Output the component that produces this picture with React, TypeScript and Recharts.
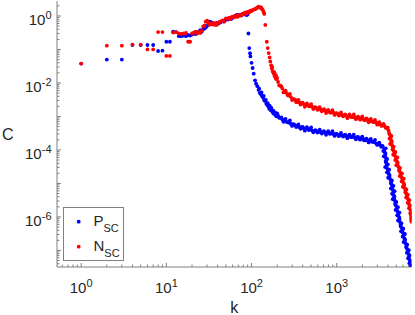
import { Scatter, ScatterChart, XAxis, YAxis } from 'recharts';

const FONT = '"Liberation Sans", Arial, Helvetica, sans-serif';
const AXIS = '#808080';
const TEXT = '#262626';
const BLUE = '#0000ff';
const RED = '#ff0000';

const X_DOMAIN = [0.52, 7550];
const Y_DOMAIN = [3.2e-8, 2.8];
const X_LABELS = [1, 10, 100, 1000];
const Y_LABELS = [1e-6, 1e-4, 1e-2, 1];
const LEGEND = [
  { name: 'P', sub: 'SC', color: BLUE },
  { name: 'N', sub: 'SC', color: RED },
];

// P_SC: degree k -> C
const P_LOW: [number, number][] = [
  [1, 0.038], [2, 0.05], [3, 0.05], [4, 0.135], [5, 0.135], [6, 0.136], [7, 0.136],
  [8, 0.09], [9, 0.092], [10, 0.17], [11, 0.17],
];
const P_RISE: [number, number][] = [
  [12, 0.34], [13, 0.33], [14, 0.25], [15, 0.25], [16, 0.26], [17, 0.25], [18, 0.27],
  [19, 0.26], [20, 0.28], [21, 0.3], [22, 0.29], [23, 0.32], [24, 0.34], [25, 0.38],
  [26, 0.34], [27, 0.4], [28, 0.42], [29, 0.45], [30, 0.5], [31, 0.55], [32, 0.68],
  [33, 0.66], [34, 0.62], [35, 0.6], [37, 0.58], [39, 0.62], [41, 0.6], [43, 0.64],
  [45, 0.7], [47, 0.68], [49, 0.74], [51, 0.8], [53, 0.78], [55, 0.85], [58, 0.82],
  [61, 0.92], [64, 1.0], [67, 1.07], [70, 1.0], [73, 1.1], [76, 1.05], [79, 1.15],
  [82, 1.2], [85, 1.1], [88, 1.07], [90, 1.12],
];
const P_DROP: [number, number][] = [
  [92, 0.3], [94, 0.11], [96, 0.077], [97, 0.062], [100, 0.04], [103, 0.028], [106, 0.019],
  [110, 0.012], [113, 0.0095], [117, 0.008], [121, 0.0062], [123, 0.0068], [125, 0.005],
  [129, 0.0046], [131, 0.0052], [133, 0.004], [137, 0.0036], [139, 0.0041], [141, 0.003],
  [145, 0.0029], [147, 0.0031], [149, 0.0024], [153, 0.0022], [155, 0.0025], [157, 0.002],
  [161, 0.0017], [163, 0.0021], [165, 0.0019], [169, 0.0015], [171, 0.0018], [174, 0.0015],
  [178, 0.0013], [180, 0.0015], [183, 0.0012], [188, 0.0012], [190, 0.0013], [193, 0.00105],
  [197, 0.001],
];
const P_PLATEAU: [number, number][] = [
  [200, 1.23e-3], [211, 9.1e-4], [224, 9.3e-4], [237, 6.9e-4], [251, 8.5e-4], [266, 6.7e-4],
  [282, 7.6e-4], [299, 5.2e-4], [316, 5.75e-4], [335, 4.85e-4], [355, 5.75e-4], [376, 4.27e-4],
  [398, 4.9e-4], [422, 3.76e-4], [447, 4.8e-4], [473, 3.94e-4], [501, 4.68e-4], [531, 3.35e-4],
  [562, 3.9e-4], [596, 3.31e-4], [631, 4.07e-4], [668, 3.09e-4], [708, 3.63e-4], [750, 2.82e-4],
  [794, 3.63e-4], [841, 3.02e-4], [891, 3.63e-4], [944, 2.63e-4], [1000, 3.02e-4], [1059, 2.57e-4],
  [1122, 3.24e-4], [1189, 2.51e-4], [1259, 2.88e-4], [1334, 2.24e-4], [1413, 2.88e-4], [1496, 2.4e-4],
  [1585, 2.88e-4], [1679, 2.09e-4], [1778, 2.45e-4], [1884, 2.02e-4], [1995, 2.51e-4], [2113, 1.93e-4],
  [2239, 2.19e-4], [2371, 1.68e-4], [2512, 2.14e-4], [2661, 1.74e-4], [2818, 2.0e-4], [2985, 1.41e-4],
  [3162, 1.66e-4], [3350, 1.23e-4], [3467, 1.29e-4],
];
const P_PLATEAU_MID: [number, number][] = [
  [205, 1.05e-3], [218, 9.1e-4], [230, 8.1e-4], [244, 7.8e-4], [258, 6.9e-4], [274, 6.6e-4],
  [290, 6.0e-4], [307, 5.9e-4], [326, 5.4e-4], [345, 5.2e-4], [365, 4.8e-4], [387, 4.8e-4],
  [410, 4.4e-4], [434, 4.4e-4], [460, 4.1e-4], [487, 4.1e-4], [516, 3.8e-4], [546, 3.8e-4],
  [579, 3.55e-4], [613, 3.63e-4], [649, 3.39e-4], [688, 3.47e-4], [729, 3.24e-4], [772, 3.31e-4],
  [818, 3.09e-4], [866, 3.16e-4], [917, 2.95e-4], [972, 3.02e-4], [1029, 2.82e-4], [1090, 2.88e-4],
  [1155, 2.69e-4], [1223, 2.75e-4], [1296, 2.57e-4], [1372, 2.63e-4], [1454, 2.45e-4], [1540, 2.51e-4],
  [1631, 2.34e-4], [1728, 2.4e-4], [1830, 2.19e-4], [1939, 2.24e-4], [2054, 2.04e-4], [2175, 2.09e-4],
  [2304, 1.91e-4], [2441, 1.95e-4], [2585, 1.78e-4], [2738, 1.74e-4], [2901, 1.58e-4], [3073, 1.55e-4],
  [3255, 1.38e-4], [3410, 1.32e-4],
];
const P_TAIL: [number, number][] = [
  [3758, 1.12e-4], [3524, 9.33e-5], [3741, 7.76e-5], [3565, 6.46e-5], [3908, 5.37e-5], [3758, 4.47e-5],
  [3990, 3.72e-5], [3698, 3.09e-5], [4130, 2.57e-5], [3890, 2.14e-5], [4169, 1.78e-5], [4018, 1.48e-5],
  [4446, 1.23e-5], [4335, 1.02e-5], [4634, 8.51e-6], [4325, 7.08e-6], [4786, 5.89e-6], [4467, 4.9e-6],
  [4753, 4.07e-6], [4550, 3.39e-6], [5012, 2.82e-6], [4875, 2.34e-6], [5236, 1.95e-6], [4909, 1.62e-6],
  [5458, 1.35e-6], [5129, 1.12e-6], [5458, 9.33e-7], [5236, 7.76e-7], [5754, 6.46e-7], [5623, 5.37e-7],
  [6053, 4.47e-7], [5689, 3.72e-7], [6324, 3.09e-7], [5943, 2.57e-7], [6339, 2.14e-7], [6095, 1.78e-7],
  [6730, 1.48e-7], [6546, 1.23e-7], [7015, 1.02e-7], [6668, 8.51e-8], [7194, 7.08e-8], [6887, 5.89e-8],
  [7311, 4.9e-8], [7129, 4.07e-8], [7345, 3.55e-8],
];
const P_TAIL_MID: [number, number][] = [
  [3622, 1.02e-4], [3673, 8.5e-5], [3715, 7.1e-5], [3758, 5.9e-5], [3784, 4.9e-5], [3819, 4.07e-5],
  [3846, 3.39e-5], [3899, 2.82e-5], [3990, 2.34e-5], [4074, 1.95e-5], [4159, 1.62e-5], [4246, 1.35e-5],
  [4345, 1.12e-5], [4416, 9.33e-6], [4477, 7.76e-6], [4539, 6.46e-6], [4603, 5.37e-6], [4667, 4.47e-6],
  [4732, 3.72e-6], [4797, 3.09e-6], [4887, 2.57e-6], [4977, 2.14e-6], [5070, 1.78e-6], [5164, 1.48e-6],
  [5260, 1.23e-6], [5358, 1.02e-6], [5433, 8.51e-7], [5521, 7.08e-7], [5623, 5.89e-7], [5741, 4.9e-7],
  [5875, 4.07e-7], [5984, 3.39e-7], [6095, 2.82e-7], [6209, 2.34e-7], [6324, 1.95e-7], [6442, 1.62e-7],
  [6561, 1.35e-7], [6699, 1.12e-7], [6839, 9.33e-8], [6966, 7.76e-8], [7047, 6.46e-8], [7129, 5.37e-8],
  [7211, 4.47e-8], [7295, 3.72e-8],
];

// N_SC: degree k -> C
const N_LOW: [number, number][] = [
  [1, 0.038], [2, 0.13], [3, 0.13], [4, 0.14], [5, 0.14], [6, 0.1], [7, 0.1],
  [8, 0.33], [9, 0.33], [10, 0.064], [11, 0.064],
];
const N_RISE: [number, number][] = [
  [12, 0.32], [13, 0.33], [14, 0.3], [15, 0.29], [16, 0.3], [17, 0.31], [18, 0.17], [19, 0.17],
  [20, 0.3], [21, 0.32], [22, 0.34], [23, 0.3], [24, 0.33], [25, 0.31], [26, 0.36], [27, 0.48],
  [28, 0.52], [29, 0.68], [30, 0.72], [31, 0.62], [32, 0.55], [33, 0.6], [34, 0.56], [35, 0.58],
  [36, 0.62], [37, 0.54], [38, 0.58], [39, 0.54], [40, 0.62], [42, 0.66], [44, 0.7], [46, 0.74],
  [48, 0.68], [50, 0.85], [52, 0.82], [54, 0.88], [56, 0.8], [58, 0.92], [60, 0.95], [62, 0.9],
  [64, 0.98], [66, 1.0], [68, 0.94], [70, 1.05], [72, 1.08], [74, 1.02], [76, 1.1], [78, 1.15],
  [80, 1.1], [82, 1.2], [84, 1.25], [86, 1.18], [88, 1.3], [90, 1.25], [92, 1.35], [94, 1.3],
  [96, 1.4], [98, 1.45], [100, 1.4], [103, 1.5], [106, 1.55], [109, 1.6], [112, 1.65], [115, 1.7],
  [118, 1.8], [121, 1.9], [124, 1.85], [127, 1.75], [130, 1.8], [133, 1.6], [136, 1.5], [139, 1.3],
  [141, 1.15],
];
const N_DROP: [number, number][] = [
  [145, 0.54], [151, 0.17], [155, 0.11], [159, 0.078], [163, 0.058], [166, 0.044], [170, 0.034],
  [173, 0.027], [175, 0.03], [177, 0.022], [182, 0.019], [185, 0.021], [187, 0.016], [192, 0.014],
  [193, 0.017], [196, 0.013],
];
const N_PLATEAU: [number, number][] = [
  [200, 1.41e-2], [211, 8.5e-3], [224, 7.9e-3], [237, 5.2e-3], [251, 5.9e-3], [266, 4.3e-3],
  [282, 4.7e-3], [299, 3.1e-3], [316, 3.3e-3], [335, 2.66e-3], [355, 3.1e-3], [376, 2.26e-3],
  [398, 2.57e-3], [422, 1.95e-3], [447, 2.45e-3], [473, 2.0e-3], [501, 2.34e-3], [531, 1.66e-3],
  [562, 1.9e-3], [596, 1.58e-3], [631, 1.9e-3], [668, 1.43e-3], [708, 1.66e-3], [750, 1.26e-3],
  [794, 1.58e-3], [841, 1.3e-3], [891, 1.55e-3], [944, 1.11e-3], [1000, 1.26e-3], [1059, 1.06e-3],
  [1122, 1.32e-3], [1189, 1.01e-3], [1259, 1.15e-3], [1334, 8.9e-4], [1413, 1.15e-3], [1496, 9.5e-4],
  [1585, 1.15e-3], [1679, 8.3e-4], [1778, 9.8e-4], [1884, 8.0e-4], [1995, 1.0e-3], [2113, 7.7e-4],
  [2239, 8.7e-4], [2371, 6.7e-4], [2512, 8.5e-4], [2661, 6.9e-4], [2818, 7.9e-4], [2985, 5.7e-4],
  [3162, 6.8e-4], [3350, 5.2e-4], [3548, 6.0e-4], [3758, 4.6e-4], [3981, 4.6e-4], [4121, 3.2e-4],
];
const N_PLATEAU_MID: [number, number][] = [
  [205, 1.07e-2], [218, 8.3e-3], [230, 6.8e-3], [244, 5.6e-3], [258, 5.0e-3], [274, 4.2e-3],
  [290, 3.8e-3], [307, 3.3e-3], [326, 3.1e-3], [345, 2.75e-3], [365, 2.63e-3], [387, 2.4e-3],
  [410, 2.34e-3], [434, 2.19e-3], [460, 2.14e-3], [487, 2.0e-3], [516, 1.95e-3], [546, 1.82e-3],
  [579, 1.78e-3], [613, 1.66e-3], [649, 1.62e-3], [688, 1.55e-3], [729, 1.51e-3], [772, 1.41e-3],
  [818, 1.38e-3], [866, 1.32e-3], [917, 1.29e-3], [972, 1.23e-3], [1029, 1.2e-3], [1090, 1.12e-3],
  [1155, 1.12e-3], [1223, 1.07e-3], [1296, 1.05e-3], [1372, 1.0e-3], [1454, 1.0e-3], [1540, 9.5e-4],
  [1631, 9.5e-4], [1728, 9.1e-4], [1830, 9.1e-4], [1939, 8.5e-4], [2054, 8.5e-4], [2175, 7.9e-4],
  [2304, 7.9e-4], [2441, 7.4e-4], [2585, 7.2e-4], [2738, 6.8e-4], [2901, 6.6e-4], [3073, 6.0e-4],
  [3255, 5.9e-4], [3449, 5.4e-4], [3652, 5.2e-4], [3868, 4.5e-4], [4060, 3.8e-4],
];
const N_TAIL: [number, number][] = [
  [4385, 2.63e-4], [4159, 2.19e-4], [4416, 1.82e-4], [4236, 1.51e-4], [4667, 1.26e-4], [4529, 1.05e-4],
  [4887, 8.7e-5], [4603, 7.2e-5], [5152, 6.0e-5], [4864, 5.0e-5], [5188, 4.2e-5], [5000, 3.5e-5],
  [5534, 2.9e-5], [5408, 2.4e-5], [5834, 2.0e-5], [5483, 1.66e-5], [6124, 1.38e-5], [5781, 1.15e-5],
  [6194, 9.5e-6], [5957, 7.9e-6], [6577, 6.6e-6], [6397, 5.5e-6], [6839, 4.6e-6], [6531, 3.8e-6],
  [7112, 3.16e-6], [6823, 2.63e-6], [7295, 2.19e-6], [7063, 1.82e-6], [7482, 1.51e-6], [7311, 1.26e-6],
  [7534, 1.05e-6], [7482, 8.7e-7], [7540, 7.2e-7],
];
const N_TAIL_MID: [number, number][] = [
  [4198, 2.88e-4], [4276, 2.4e-4], [4335, 2.0e-4], [4395, 1.66e-4], [4467, 1.38e-4], [4550, 1.15e-4],
  [4634, 9.5e-5], [4742, 7.9e-5], [4864, 6.6e-5], [4977, 5.5e-5], [5082, 4.6e-5], [5188, 3.8e-5],
  [5284, 3.16e-5], [5408, 2.63e-5], [5534, 2.19e-5], [5649, 1.82e-5], [5781, 1.51e-5], [5916, 1.26e-5],
  [6053, 1.05e-5], [6180, 8.7e-6], [6295, 7.2e-6], [6412, 6.0e-6], [6546, 5.0e-6], [6683, 4.2e-6],
  [6839, 3.5e-6], [6966, 2.9e-6], [7079, 2.4e-6], [7178, 2.0e-6], [7278, 1.66e-6], [7379, 1.38e-6],
  [7464, 1.15e-6], [7516, 9.5e-7], [7545, 7.9e-7],
];

const toRows = (...parts: [number, number][][]) =>
  parts.flat().map(([k, c]) => ({ k, c }));

const pscData = toRows(P_LOW, P_RISE, P_DROP, P_PLATEAU, P_PLATEAU_MID, P_TAIL, P_TAIL_MID);
const nscData = toRows(N_LOW, N_RISE, N_DROP, N_PLATEAU, N_PLATEAU_MID, N_TAIL, N_TAIL_MID);

// tick positions: decades plus 2..9 minor ticks inside the domain
function logTicks([lo, hi]: number[]) {
  const out: number[] = [];
  for (let e = Math.floor(Math.log10(lo)); e <= Math.ceil(Math.log10(hi)); e++) {
    for (let m = 1; m <= 9; m++) {
      const v = Number((m * Math.pow(10, e)).toPrecision(3));
      if (v >= lo && v <= hi) out.push(v);
    }
  }
  return out;
}
const xTicks = logTicks(X_DOMAIN);
const yTicks = logTicks(Y_DOMAIN);

const isDecade = (v: number) => Math.abs(Math.log10(v) - Math.round(Math.log10(v))) < 1e-6;
const expOf = (v: number) => Math.round(Math.log10(v));
const hasLabel = (list: number[], v: number) => list.some((t) => Math.abs(t - v) / t < 1e-6);

function TickLabel({ x, y, v, anchor }: { x: number; y: number; v: number; anchor: 'middle' | 'end' }) {
  return (
    <text x={x} y={y} textAnchor={anchor} fontSize={15} fontFamily={FONT} fill={TEXT}>
      10
      <tspan dy={-6} fontSize={11}>
        {expOf(v)}
      </tspan>
    </text>
  );
}

function BottomTick(props: any) {
  const { x, y, payload } = props;
  const v = payload.value;
  const len = isDecade(v) ? 4 : 2.5;
  return (
    <g>
      <line x1={x} x2={x} y1={y} y2={y - len} stroke={AXIS} />
      {hasLabel(X_LABELS, v) && <TickLabel x={x} y={y + 25.7} v={v} anchor="middle" />}
    </g>
  );
}

function TopTick(props: any) {
  const { x, y, payload } = props;
  const len = isDecade(payload.value) ? 4 : 2.5;
  return <line x1={x} x2={x} y1={y} y2={y + len} stroke={AXIS} />;
}

function LeftTick(props: any) {
  const { x, y, payload } = props;
  const v = payload.value;
  const len = isDecade(v) ? 4 : 2.5;
  return (
    <g>
      <line x1={x} x2={x + len} y1={y} y2={y} stroke={AXIS} />
      {hasLabel(Y_LABELS, v) && <TickLabel x={x - 5.5} y={y + 9.5} v={v} anchor="end" />}
    </g>
  );
}

function RightTick(props: any) {
  const { x, y, payload } = props;
  const len = isDecade(payload.value) ? 4 : 2.5;
  return <line x1={x} x2={x - len} y1={y} y2={y} stroke={AXIS} />;
}

const dot = (color: string) => (p: any) => <circle cx={p.cx} cy={p.cy} r={1.9} fill={color} />;

export default function App() {
  return (
    <div style={{ position: 'absolute', left: 0, top: 0, width: 415, height: 315, background: '#fff' }}>
      <ScatterChart width={415} height={315} margin={{ top: 1, right: 3.5, bottom: 0, left: 0 }}>
        <XAxis
          dataKey="k"
          type="number"
          scale="log"
          domain={X_DOMAIN}
          allowDataOverflow
          ticks={xTicks}
          interval={0}
          height={48}
          tickSize={0}
          tickMargin={0}
          tickLine={false}
          axisLine={{ stroke: AXIS }}
          tick={<BottomTick />}
          label={{ value: 'k', position: 'insideBottom', offset: 2, fontSize: 16, fontFamily: FONT, fill: TEXT }}
        />
        <XAxis
          xAxisId="top"
          orientation="top"
          type="number"
          scale="log"
          domain={X_DOMAIN}
          allowDataOverflow
          ticks={xTicks}
          interval={0}
          height={0}
          tickSize={0}
          tickMargin={0}
          tickLine={false}
          axisLine={{ stroke: AXIS }}
          tick={<TopTick />}
        />
        <YAxis
          dataKey="c"
          type="number"
          scale="log"
          domain={Y_DOMAIN}
          allowDataOverflow
          ticks={yTicks}
          interval={0}
          width={57}
          tickSize={0}
          tickMargin={0}
          tickLine={false}
          axisLine={{ stroke: AXIS }}
          tick={<LeftTick />}
          label={{ value: 'C', position: 'insideLeft', offset: 2, fontSize: 16, fontFamily: FONT, fill: TEXT }}
        />
        <YAxis
          yAxisId="right"
          orientation="right"
          type="number"
          scale="log"
          domain={Y_DOMAIN}
          allowDataOverflow
          ticks={yTicks}
          interval={0}
          width={0}
          tickSize={0}
          tickMargin={0}
          tickLine={false}
          axisLine={{ stroke: AXIS }}
          tick={<RightTick />}
        />
        <Scatter name="PSC" data={pscData} fill={BLUE} shape={dot(BLUE)} isAnimationActive={false} />
        <Scatter name="NSC" data={nscData} fill={RED} shape={dot(RED)} isAnimationActive={false} />
      </ScatterChart>
      <svg width={415} height={315} style={{ position: 'absolute', left: 0, top: 0, pointerEvents: 'none' }}>
        <rect x={63.5} y={207.5} width={60} height={53} fill="#fff" stroke={AXIS} />
        {LEGEND.map((item, i) => (
          <g key={item.name}>
            <circle cx={78.7} cy={221.7 + i * 25} r={1.9} fill={item.color} />
            <text x={93.5} y={226 + i * 25} fontSize={15} fontFamily={FONT} fill={TEXT}>
              {item.name}
              <tspan dy={5.5} fontSize={11}>
                {item.sub}
              </tspan>
            </text>
          </g>
        ))}
      </svg>
    </div>
  );
}
